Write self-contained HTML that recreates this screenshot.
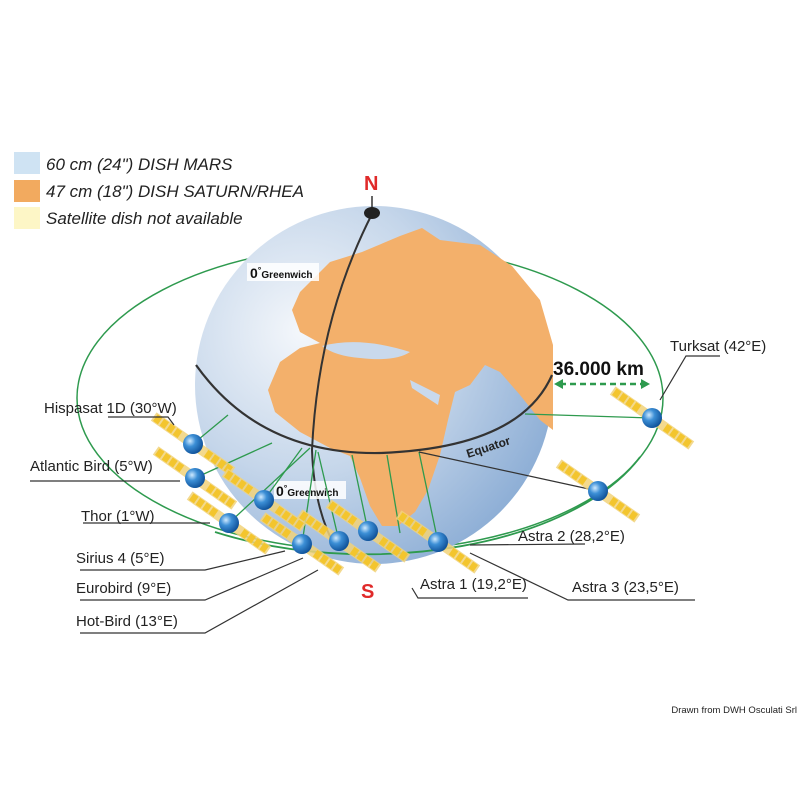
<!DOCTYPE html>
<html><head><meta charset="utf-8"><style>
html,body{margin:0;padding:0;background:#fff;}
svg{display:block;font-family:"Liberation Sans",sans-serif;}
</style></head><body>
<svg width="800" height="800" viewBox="0 0 800 800" xmlns="http://www.w3.org/2000/svg">
<defs>
<radialGradient id="gl" cx="0.3" cy="0.35" r="0.8">
<stop offset="0" stop-color="#f4f7fb"/><stop offset="0.5" stop-color="#c5d6ea"/><stop offset="1" stop-color="#86a9d3"/>
</radialGradient>
<radialGradient id="sat" cx="0.35" cy="0.35" r="0.7">
<stop offset="0" stop-color="#cfeaff"/><stop offset="0.4" stop-color="#3c8fd6"/><stop offset="1" stop-color="#0d4f97"/>
</radialGradient>
<g id="s">
<g transform="rotate(35)">
<rect x="-48" y="-5" width="96" height="10" fill="#f1d27a" opacity="0.85"/>
<g fill="#f3c52e">
<rect x="-46" y="-4" width="6" height="8"/><rect x="-38" y="-4" width="6" height="8"/><rect x="-30" y="-4" width="6" height="8"/><rect x="-22" y="-4" width="6" height="8"/>
<rect x="16" y="-4" width="6" height="8"/><rect x="24" y="-4" width="6" height="8"/><rect x="32" y="-4" width="6" height="8"/><rect x="40" y="-4" width="6" height="8"/>
</g></g>
<circle r="10" fill="url(#sat)"/>
</g>
</defs>

<!-- legend -->
<rect x="14" y="152" width="26" height="22" fill="#cfe3f3"/>
<rect x="14" y="180" width="26" height="22" fill="#f2aa5f"/>
<rect x="14" y="207" width="26" height="22" fill="#fdf6c6"/>
<g font-style="italic" font-size="17" fill="#222">
<text x="46" y="170">60 cm (24") DISH MARS</text>
<text x="46" y="197">47 cm (18") DISH SATURN/RHEA</text>
<text x="46" y="224">Satellite dish not available</text>
</g>

<!-- orbit back -->
<ellipse cx="370" cy="398" rx="293" ry="153" fill="none" stroke="#2e9a4e" stroke-width="1.5"/>

<!-- globe -->
<circle cx="374" cy="385" r="179" fill="url(#gl)"/>
<path d="M300 292 L330 262 L362 252 L400 236 L422 228 L440 240 L480 245 L512 266 L540 300 L553 345 L553 430 L540 420 L520 395 L500 372 L485 365 L470 385 L455 392 L448 420 L440 455 L428 490 L415 512 L398 526 L382 526 L370 506 L360 478 L350 456 L330 448 L300 432 L275 412 L268 390 L280 362 L300 348 L320 343 L300 332 L292 310 Z" fill="#f3b06b"/>
<path d="M322 346 Q360 336 410 352 Q395 362 360 358 Q335 356 322 346Z" fill="#c9d9ec"/>
<path d="M410 380 L440 395 L438 405 L412 388Z" fill="#c9d9ec"/>
<!-- meridian & equator -->
<path d="M372 214 Q318 320 312 450 Q314 510 336 548" fill="none" stroke="#333" stroke-width="2"/>
<path d="M196 365 Q260 455 380 453 Q520 448 552 375" fill="none" stroke="#333" stroke-width="2.2"/>
<line x1="372" y1="196" x2="372" y2="212" stroke="#333" stroke-width="1.5"/>
<ellipse cx="372" cy="213" rx="8" ry="6" fill="#222"/>
<text x="364" y="190" font-size="20" font-weight="bold" fill="#e02a2a">N</text>
<text x="361" y="598" font-size="20" font-weight="bold" fill="#e02a2a">S</text>
<rect x="247" y="263" width="72" height="18" fill="#fff" opacity="0.85"/>
<text x="250" y="278" font-size="14" font-weight="bold" fill="#111">0<tspan font-size="9" dy="-5">°</tspan><tspan font-size="10" dy="5">Greenwich</tspan></text>
<rect x="274" y="481" width="72" height="18" fill="#fff" opacity="0.85"/>
<text x="276" y="496" font-size="14" font-weight="bold" fill="#111">0<tspan font-size="9" dy="-5">°</tspan><tspan font-size="10" dy="5">Greenwich</tspan></text>
<text x="468" y="458" font-size="12" font-weight="bold" fill="#222" transform="rotate(-18 468 458)">Equator</text>

<!-- beams -->
<g stroke="#2e9a4e" stroke-width="1.3">
<line x1="193" y1="444" x2="228" y2="415"/>
<line x1="195" y1="478" x2="272" y2="443"/>
<line x1="229" y1="523" x2="310" y2="448"/>
<line x1="264" y1="500" x2="302" y2="448"/>
<line x1="302" y1="544" x2="316" y2="450"/>
<line x1="339" y1="541" x2="318" y2="452"/>
<line x1="368" y1="531" x2="352" y2="455"/>
<line x1="400" y1="533" x2="387" y2="455"/>
<line x1="438" y1="542" x2="419" y2="452"/>
<line x1="652" y1="418" x2="525" y2="414"/>
</g>
<line x1="598" y1="491" x2="419" y2="452" stroke="#333" stroke-width="1.3"/>
<!-- front orbit segment -->
<path d="M215 532 A293 153 0 0 0 640 457" fill="none" stroke="#2e9a4e" stroke-width="1.8"/>

<!-- satellites -->
<use href="#s" x="193" y="444"/>
<use href="#s" x="195" y="478"/>
<use href="#s" x="229" y="523"/>
<use href="#s" x="264" y="500"/>
<use href="#s" x="302" y="544"/>
<use href="#s" x="339" y="541"/>
<use href="#s" x="368" y="531"/>
<use href="#s" x="438" y="542"/>
<use href="#s" x="598" y="491"/>
<use href="#s" x="652" y="418"/>

<!-- 36000 km -->
<text x="553" y="375" font-size="19" font-weight="bold" fill="#111">36.000 km</text>
<line x1="560" y1="384" x2="645" y2="384" stroke="#2e9a4e" stroke-width="2.5" stroke-dasharray="6,4"/>
<path d="M554 384 L563 379 L563 389Z M650 384 L641 379 L641 389Z" fill="#2e9a4e"/>

<!-- labels -->
<g font-size="15" fill="#222">
<text x="670" y="351">Turksat (42°E)</text>
<text x="44" y="413">Hispasat 1D (30°W)</text>
<text x="30" y="471">Atlantic Bird (5°W)</text>
<text x="81" y="521">Thor (1°W)</text>
<text x="76" y="563">Sirius 4 (5°E)</text>
<text x="76" y="593">Eurobird (9°E)</text>
<text x="76" y="626">Hot-Bird (13°E)</text>
<text x="518" y="541">Astra 2 (28,2°E)</text>
<text x="420" y="589">Astra 1 (19,2°E)</text>
<text x="572" y="592">Astra 3 (23,5°E)</text>
</g>
<text x="797" y="713" font-size="9.5" fill="#222" text-anchor="end">Drawn from DWH Osculati Srl</text>

<g stroke="#333" stroke-width="1.2" fill="none">
<path d="M720 356 L686 356 L660 400"/>
<path d="M108 417 L168 417 L174 425"/>
<path d="M30 481 L180 481"/>
<path d="M83 523 L210 523"/>
<path d="M80 570 L205 570 L285 551"/>
<path d="M80 600 L205 600 L303 558"/>
<path d="M80 633 L205 633 L318 570"/>
<path d="M585 544 L470 545"/>
<path d="M528 598 L418 598 L412 588"/>
<path d="M695 600 L568 600 L470 553"/>
</g>
</svg>
</body></html>
